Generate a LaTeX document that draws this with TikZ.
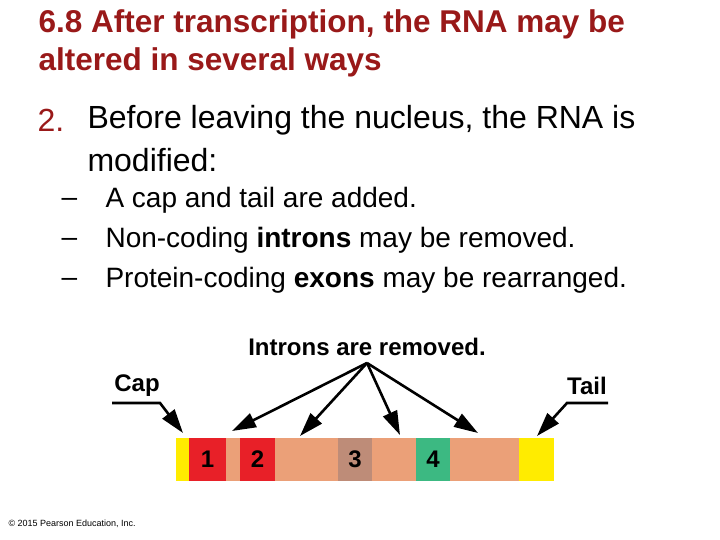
\documentclass[tikz,border=0pt]{standalone}
\usepackage{fontspec}
\setmainfont{Liberation Sans}
\usetikzlibrary{arrows.meta}
\definecolor{titlered}{RGB}{153,25,25}
\definecolor{capy}{RGB}{255,236,0}
\definecolor{exred}{RGB}{232,32,40}
\definecolor{salmon}{RGB}{235,160,120}
\definecolor{brown3}{RGB}{190,140,120}
\definecolor{green4}{RGB}{60,185,130}
\tikzset{px/.style={x=1pt,y=-1pt},
 lbl/.style={font=\bfseries\fontsize{24}{28}\selectfont,inner sep=0},
 seg/.style={draw=none,minimum height=43pt,inner sep=0,font=\bfseries\fontsize{24}{28}\selectfont},
 arr/.style={line width=2.6pt,-{Triangle[length=24pt,width=15pt]}}}
\begin{document}
\begin{tikzpicture}[px]
\useasboundingbox (0,0) rectangle (720,540);
\node[anchor=west,text=titlered,font=\bfseries\fontsize{31.5}{36}\selectfont] (title) at (35,24) {6.8 After transcription, the RNA may be};
\node[anchor=west,text=titlered,font=\bfseries\fontsize{31.5}{36}\selectfont] (title2) at (35,62) {altered in several ways};
\node[anchor=west,text=titlered,font=\fontsize{32}{36}\selectfont] (num) at (34,120) {2.};
\node[anchor=west,font=\fontsize{32}{36}\selectfont] (b1) at (84,120) {Before leaving the nucleus, the RNA is};
\node[anchor=west,font=\fontsize{32}{36}\selectfont] (b2) at (84,160) {modified:};
\foreach \y/\t [count=\i] in {200/{A cap and tail are added.},240/{Non-coding \textbf{introns} may be removed.},280/{Protein-coding \textbf{exons} may be rearranged.}}{
 \node[anchor=west,font=\fontsize{28}{32}\selectfont] (d\i) at (58,\y+2) {–};
 \node[anchor=west,font=\fontsize{28}{32}\selectfont] (s\i) at (102,\y) {\t};
}
% bar
\node[seg,fill=capy,minimum width=13pt] (cap) at (182.5,459) {};
\node[seg,fill=exred,minimum width=37pt] (e1) at (207.5,459) {1};
\node[seg,fill=salmon,minimum width=14pt] (i1) at (233,459) {};
\node[seg,fill=exred,minimum width=35pt] (e2) at (257.5,459) {2};
\node[seg,fill=salmon,minimum width=63pt] (i2) at (306.5,459) {};
\node[seg,fill=brown3,minimum width=34pt] (e3) at (355,459) {3};
\node[seg,fill=salmon,minimum width=44pt] (i3) at (394,459) {};
\node[seg,fill=green4,minimum width=34pt] (e4) at (433,459) {4};
\node[seg,fill=salmon,minimum width=69pt] (i4) at (484.5,459) {};
\node[seg,fill=capy,minimum width=35pt] (tail) at (536.5,459) {};
% labels
\node[lbl] (intr) at (367,347) {Introns are removed.};
\node[lbl] (caplbl) at (137,386) {Cap};
\node[lbl] (taillbl) at (587,386) {Tail};
\coordinate (hub) at (367,363);
\draw[arr] (hub) -- (232,431);
\draw[arr] (hub) -- (300,436);
\draw[arr] (hub) -- (400,435);
\draw[arr] (hub) -- (478,433);
\coordinate (cl) at (112,403);
\coordinate (tl) at (608,403);
\draw[arr] (cl) -- (160,403) -- (183,433);
\draw[arr] (tl) -- (567,403) -- (537,436);
\node[anchor=west,font=\fontsize{9}{11}\selectfont] (copy) at (5,524) {© 2015 Pearson Education, Inc.};
\end{tikzpicture}
\end{document}
